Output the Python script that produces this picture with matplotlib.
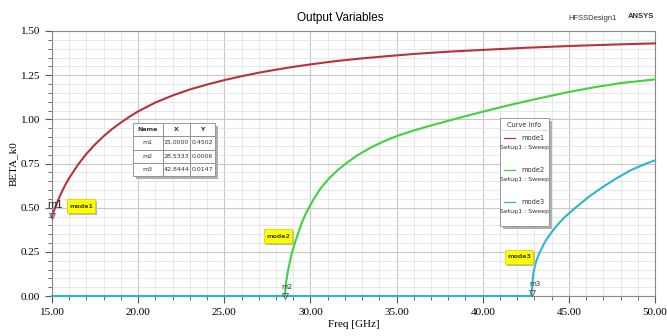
import numpy as np
import matplotlib.pyplot as plt
from matplotlib.patches import Rectangle
from matplotlib.ticker import MultipleLocator, FormatStrFormatter

# readings from the picture
freq1 = [15.0, 15.1, 15.2, 15.35, 15.5, 15.75, 16.0, 16.5, 17.0, 17.5, 18.0, 18.5,
         19.0, 19.5, 20.0, 21.0, 22.0, 23.0, 24.0, 25.0, 26.0, 27.0, 28.0, 29.0,
         30.0, 31.5, 33.0, 34.5, 36.0, 38.0, 40.0, 42.5, 45.0, 47.5, 50.0]
mode1 = [0.4502, 0.479, 0.505, 0.542, 0.575, 0.625, 0.668, 0.742, 0.805, 0.858, 0.905, 0.946,
         0.982, 1.015, 1.045, 1.095, 1.135, 1.169, 1.197, 1.222, 1.244, 1.264, 1.281, 1.297,
         1.311, 1.33, 1.345, 1.358, 1.37, 1.383, 1.393, 1.405, 1.415, 1.423, 1.43]

freq2 = [15.0, 28.5, 28.5333, 28.55, 28.6, 28.65, 28.7, 28.8, 28.9, 29.0, 29.2, 29.5,
         29.8, 30.2, 30.6, 31.1, 31.6, 32.1, 32.7, 33.5, 34.2, 35.0, 36.0, 37.0,
         38.5, 40.0, 41.4, 43.0, 45.0, 46.5, 48.0, 50.0]
mode2 = [0.0, 0.0, 0.0006, 0.045, 0.085, 0.115, 0.145, 0.19, 0.235, 0.27, 0.33, 0.415,
         0.48, 0.55, 0.61, 0.668, 0.714, 0.753, 0.795, 0.84, 0.873, 0.905, 0.937, 0.965,
         1.005, 1.043, 1.077, 1.113, 1.155, 1.182, 1.205, 1.226]

freq3 = [15.0, 42.8, 42.8444, 42.87, 42.94, 43.02, 43.1, 43.2, 43.32, 43.5, 43.7, 44.1,
         44.5, 44.8, 45.45, 46.2, 47.0, 47.8, 48.55, 49.3, 50.0]
mode3 = [0.0, 0.0, 0.0147, 0.06, 0.128, 0.165, 0.195, 0.222, 0.248, 0.285, 0.32, 0.375,
         0.42, 0.45, 0.505, 0.565, 0.619, 0.668, 0.71, 0.742, 0.768]

marker_names = ["m1", "m2", "m3"]
marker_x = [15.0000, 28.5333, 42.8444]
marker_y = [0.4502, 0.0006, 0.0147]

curve_names = ["mode1", "mode2", "mode3"]
colors = ["#b8323e", "#3fd23f", "#2fb3d3"]

W, H = 667, 336
fig = plt.figure(figsize=(W / 100, H / 100), dpi=100)
ax = fig.add_axes([52 / W, 1 - 296 / H, 603 / W, 265 / H])

def px(x, y):
    return x / W, 1 - y / H

for f, v, c in zip([freq1, freq2, freq3], [mode1, mode2, mode3], colors):
    ax.plot(f, v, color=c, lw=1.5, clip_on=False, zorder=3)

# markers on the curves
ax.plot(marker_x, marker_y, ls="none", marker="v", ms=4, mfc="none",
        mec="#555555", mew=0.6, clip_on=False, zorder=4)

ax.set_xlim(15, 50)
ax.set_ylim(0, 1.5)
ax.xaxis.set_major_locator(MultipleLocator(5))
ax.xaxis.set_minor_locator(MultipleLocator(1))
ax.yaxis.set_major_locator(MultipleLocator(0.25))
ax.yaxis.set_minor_locator(MultipleLocator(0.05))
ax.xaxis.set_major_formatter(FormatStrFormatter("%.2f"))
ax.yaxis.set_major_formatter(FormatStrFormatter("%.2f"))
ax.grid(which="major", color="#c8c8c8", lw=0.8)
ax.grid(which="minor", color="#e4e4e4", lw=0.6)
ax.set_axisbelow(True)
for s in ax.spines.values():
    s.set_color("#8a8a8a")
ax.tick_params(which="both", colors="#555555", labelcolor="black",
               labelsize=8, direction="out")
ax.tick_params(which="major", length=5)
ax.tick_params(which="minor", length=3)
for lab in ax.get_xticklabels() + ax.get_yticklabels():
    lab.set_family("Liberation Serif")
ax.set_xlabel("Freq [GHz]", family="Liberation Serif", fontsize=8, labelpad=2)
ax.set_ylabel("BETA_k0", family="Liberation Serif", fontsize=8, labelpad=2)

fig.text(*px(340, 18), "Output Variables", ha="center", va="center",
         family="Liberation Sans", fontsize=8.5)
fig.text(*px(593, 18), "HFSSDesign1", ha="center", va="center",
         family="Liberation Sans", fontsize=5.5, color="#333333")
fig.text(*px(641, 17), "ANSYS", ha="center", va="center",
         family="Liberation Sans", fontsize=5.5, weight="bold", color="#333333")

# marker table
tx0, ty0, tw, th = 133, 123, 82, 53
fig.patches.append(Rectangle(px(tx0 + 3, ty0 + th + 3), tw / W, th / H,
                             transform=fig.transFigure, fc="#b0b0b0", ec="none", zorder=5))
rows = [[n, "%.4f" % x, "%.4f" % y] for n, x, y in zip(marker_names, marker_x, marker_y)]
tax = fig.add_axes([tx0 / W, 1 - (ty0 + th) / H, tw / W, th / H])
tax.set_zorder(10)
tax.axis("off")
tab = tax.table(cellText=rows, colLabels=["Name", "X", "Y"], bbox=[0, 0, 1, 1],
                colWidths=[0.36, 0.34, 0.30], cellLoc="center")
tab.auto_set_font_size(False)
for (r, c), cell in tab.get_celld().items():
    cell.set_edgecolor("#8a8a8a")
    cell.set_linewidth(0.6)
    cell.set_facecolor("white")
    cell.get_text().set_fontsize(4.5)
    cell.get_text().set_color("#333333")
    if r == 0:
        cell.get_text().set_weight("bold")

# curve info legend
lx0, ly0, lw_, lh = 500, 118, 49, 108
fig.patches.append(Rectangle(px(lx0 + 3, ly0 + lh + 3), lw_ / W, lh / H,
                             transform=fig.transFigure, fc="#b0b0b0", ec="none", zorder=5))
fig.patches.append(Rectangle(px(lx0, ly0 + lh), lw_ / W, lh / H,
                             transform=fig.transFigure, fc="white", ec="#8a8a8a",
                             lw=0.6, zorder=6))
fig.text(*px(lx0 + lw_ / 2, 125), "Curve Info", ha="center", va="center",
         fontsize=4.8, color="#333333", zorder=7)
fig.add_artist(plt.Line2D([px(lx0, 130)[0], px(lx0 + lw_, 130)[0]],
                          [px(0, 130)[1]] * 2, color="#cccccc", lw=0.5, zorder=7))
for i, (n, c) in enumerate(zip(curve_names, colors)):
    y = 138 + i * 32
    fig.add_artist(plt.Line2D([px(lx0 + 4, y)[0], px(lx0 + 15, y)[0]],
                              [px(0, y)[1]] * 2, color=c, lw=0.9, zorder=7))
    fig.text(*px(lx0 + 33, y), n, ha="center", va="center", fontsize=4.8,
             color="#333333", zorder=7)
    fig.text(*px(lx0 + lw_ / 2, y + 10), "Setup1 : Sweep", ha="center", va="center",
             fontsize=4.5, color="#333333", zorder=7)

# yellow curve labels
for n, (cx, cy) in zip(curve_names, [(81, 206), (278, 236), (519, 257)]):
    fig.patches.append(Rectangle(px(cx - 14 + 2, cy + 7 + 2), 28 / W, 14 / H,
                                 transform=fig.transFigure, fc="#b8b8b8", ec="none", zorder=5))
    fig.patches.append(Rectangle(px(cx - 14, cy + 7), 28 / W, 14 / H,
                                 transform=fig.transFigure, fc="#ffff00", ec="#d0d000",
                                 lw=0.5, zorder=6))
    fig.text(*px(cx, cy), n, ha="center", va="center", fontsize=4.5,
             weight="bold", color="#444400", zorder=7)

fig.text(*px(55, 205), "m1", ha="center", va="center", fontsize=8,
         family="Liberation Sans", color="#222222")
fig.text(*px(287, 287), "m2", ha="center", va="center", fontsize=5, color="#333333")
fig.text(*px(535, 284), "m3", ha="center", va="center", fontsize=5, color="#333333")

fig.savefig("out.png", dpi=100)
